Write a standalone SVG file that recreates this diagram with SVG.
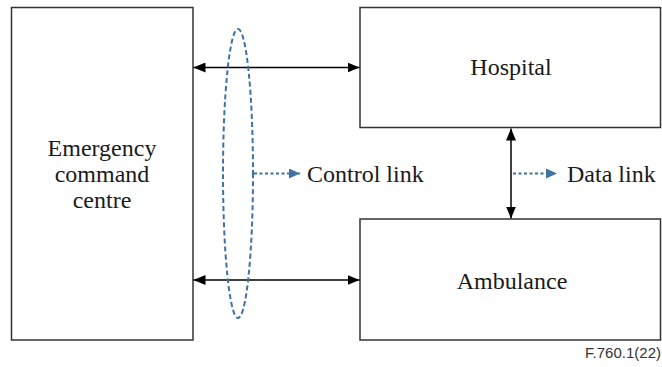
<svg xmlns="http://www.w3.org/2000/svg" width="662" height="367" viewBox="0 0 662 367">
  <style>
    .box { fill: #ffffff; stroke: #333333; stroke-width: 1.5; }
    .lbl { font-family: 'Liberation Serif', 'Times New Roman', serif; font-size: 24px; fill: #1a1a1a; }
    .conn { stroke: #000000; stroke-width: 1.5; fill: none; }
    .dash { stroke: #3f71a4; stroke-width: 2; fill: none; stroke-dasharray: 3 2.5; }
    .ell { stroke: #3f71a4; stroke-width: 2; fill: none; stroke-dasharray: 5 3; }
    .note { font-family: 'Liberation Sans', Arial, sans-serif; font-size: 15px; fill: #333333; }
  </style>
  <defs>
    <marker id="ah" viewBox="0 0 12 10" refX="12" refY="5" markerWidth="12" markerHeight="10" markerUnits="userSpaceOnUse" orient="auto-start-reverse">
      <path d="M0,0 L12,5 L0,10 Z" fill="#000000"/>
    </marker>
    <marker id="bh" viewBox="0 0 11 10" refX="11" refY="5" markerWidth="11" markerHeight="10" markerUnits="userSpaceOnUse" orient="auto">
      <path d="M0,0 L11,5 L0,10 Z" fill="#3f71a4"/>
    </marker>
  </defs>
  <rect width="662" height="367" fill="#ffffff"/>

  <g id="ecc">
    <rect class="box" x="11.5" y="7.5" width="181.5" height="332.5"/>
    <text class="lbl" text-anchor="middle" x="102" y="155.5">Emergency</text>
    <text class="lbl" text-anchor="middle" x="102" y="181.5">command</text>
    <text class="lbl" text-anchor="middle" x="102" y="207.5">centre</text>
  </g>

  <g id="hospital">
    <rect class="box" x="360" y="7.5" width="300.5" height="120"/>
    <text class="lbl" text-anchor="middle" x="511" y="75">Hospital</text>
  </g>

  <g id="ambulance">
    <rect class="box" x="360" y="219" width="300.5" height="121"/>
    <text class="lbl" text-anchor="middle" x="512" y="289">Ambulance</text>
  </g>

  <g id="connectors">
    <line class="conn" x1="193.5" y1="67.5" x2="359.5" y2="67.5" marker-start="url(#ah)" marker-end="url(#ah)"/>
    <line class="conn" x1="193.5" y1="280" x2="359.5" y2="280" marker-start="url(#ah)" marker-end="url(#ah)"/>
    <line class="conn" x1="511" y1="128.5" x2="511" y2="218.5" marker-start="url(#ah)" marker-end="url(#ah)"/>
    <ellipse class="ell" cx="238" cy="173.5" rx="15" ry="144.5"/>
    <line class="dash" x1="254" y1="173.5" x2="300" y2="173.5" marker-end="url(#bh)"/>
    <line class="dash" x1="513" y1="173.5" x2="557" y2="173.5" marker-end="url(#bh)"/>
  </g>

  <g id="labels">
    <text class="lbl" x="307" y="181.5">Control link</text>
    <text class="lbl" x="567" y="182">Data link</text>
    <text class="note" x="661" y="358" text-anchor="end">F.760.1(22)</text>
  </g>
</svg>
